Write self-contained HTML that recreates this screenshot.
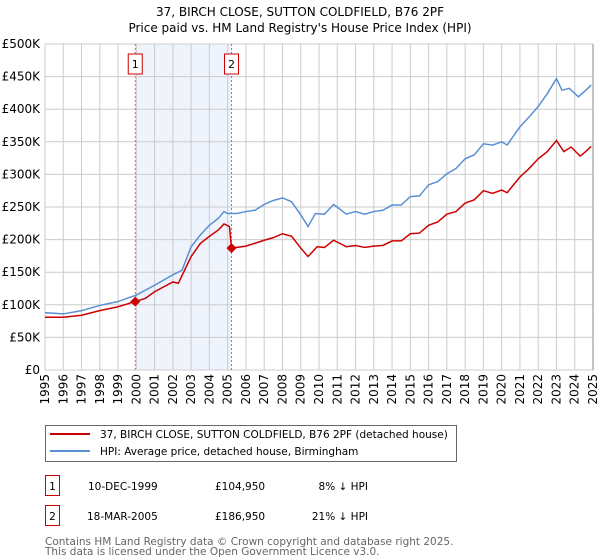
<!DOCTYPE html>
<html><head><meta charset="utf-8"><style>
body{margin:0;background:#fff;}
svg{display:block;font-family:"DejaVu Sans","Liberation Sans",sans-serif;}
</style></head><body>
<svg id="chart" width="600" height="560" viewBox="0 0 600 560">
<text x="300" y="16" text-anchor="middle" font-size="12" fill="#000">37, BIRCH CLOSE, SUTTON COLDFIELD, B76 2PF</text>
<text x="300" y="32" text-anchor="middle" font-size="12" fill="#000">Price paid vs. HM Land Registry's House Price Index (HPI)</text>
<g id="plot"></g>
<g>
<rect x="45.5" y="425.5" width="411" height="36" fill="#fff" stroke="#666"/>
<line x1="50" y1="434" x2="90" y2="434" stroke="#cc0000" stroke-width="2"/>
<text x="100" y="438" font-size="10.5">37, BIRCH CLOSE, SUTTON COLDFIELD, B76 2PF (detached house)</text>
<line x1="50" y1="451" x2="90" y2="451" stroke="#5b8fd4" stroke-width="2"/>
<text x="100" y="455" font-size="10.5">HPI: Average price, detached house, Birmingham</text>
</g>
<g font-size="10.5">
<rect x="45.5" y="475.5" width="14" height="20" fill="#fff" stroke="#cc0000"/>
<text x="52.5" y="490" text-anchor="middle">1</text>
<text x="88" y="490">10-DEC-1999</text>
<text x="215" y="490">£104,950</text>
<text x="368" y="490" text-anchor="end">8% ↓ HPI</text>
<rect x="45.5" y="505.5" width="14" height="20" fill="#fff" stroke="#cc0000"/>
<text x="52.5" y="520" text-anchor="middle">2</text>
<text x="87" y="520">18-MAR-2005</text>
<text x="215" y="520">£186,950</text>
<text x="368" y="520" text-anchor="end">21% ↓ HPI</text>
</g>
<text x="45" y="545" font-size="10.5" fill="#666">Contains HM Land Registry data © Crown copyright and database right 2025.</text>
<text x="45" y="555" font-size="10.5" fill="#666">This data is licensed under the Open Government Licence v3.0.</text>
</svg>
<script>
const yTicks=[0,50000,100000,150000,200000,250000,300000,350000,400000,450000,500000];
const yTickLabels=["£0","£50K","£100K","£150K","£200K","£250K","£300K","£350K","£400K","£450K","£500K"];
const xYears=[1995,1996,1997,1998,1999,2000,2001,2002,2003,2004,2005,2006,2007,2008,2009,2010,2011,2012,2013,2014,2015,2016,2017,2018,2019,2020,2021,2022,2023,2024,2025];
const hpiDates=[1995,1996,1997,1998,1999,2000,2001,2002,2002.5,2003,2003.5,2004,2004.5,2004.8,2005,2005.5,2006,2006.5,2007,2007.5,2008,2008.5,2009,2009.4,2009.8,2010.3,2010.8,2011.5,2012,2012.5,2013,2013.5,2014,2014.5,2015,2015.5,2016,2016.5,2017,2017.5,2018,2018.5,2019,2019.5,2020,2020.3,2021,2021.5,2022,2022.5,2023,2023.3,2023.7,2024.2,2024.6,2024.9];
const hpiValues=[88,86,91,99,105,115,130,146,153,189,207,222,233,243,240,240,243,245,254,260,264,258,238,220,240,239,254,239,243,239,243,245,253,253,266,267,284,289,301,309,324,330,347,345,350,345,373,388,404,424,447,429,432,419,429,437];
const paidDates=[1995,1996,1997,1998,1999,1999.94,2000.5,2001,2002,2002.3,2003,2003.5,2004,2004.5,2004.8,2005.1,2005.21,2006,2007,2007.5,2008,2008.5,2009,2009.4,2009.9,2010.3,2010.8,2011.5,2012,2012.5,2013,2013.5,2014,2014.5,2015,2015.5,2016,2016.5,2017,2017.5,2018,2018.5,2019,2019.5,2020,2020.3,2021,2021.5,2022,2022.5,2023,2023.4,2023.8,2024.3,2024.6,2024.9];
const paidValues=[81,81,84,91,97,104.95,110,120,135,133,174,194,205,215,224,220,186.95,190,199,203,209,205,187,174,189,188,199,189,191,188,190,191,198,198,209,210,222,227,239,243,256,261,275,271,276,272,296,309,324,335,352,335,342,328,335,343];
const saleDates=[1999.94,2005.21];
const salePrices=[104950,186950];
const saleLabels=["1","2"];

const X0=45,X1=593,Y0=370,Y1=44;
const xs=t=>X0+(t-1995)/30*(X1-X0);
const ys=v=>Y0-v/500000*(Y0-Y1);
const NS="http://www.w3.org/2000/svg";
const plot=document.getElementById('plot');
function mk(tag,attrs,parent){const e=document.createElementNS(NS,tag);for(const k in attrs)e.setAttribute(k,attrs[k]);(parent||plot).appendChild(e);return e;}

let e=mk('rect',{x:xs(saleDates[0]),y:Y1,width:xs(saleDates[1])-xs(saleDates[0]),height:Y0-Y1,fill:'#eef3fc'});


yTicks.forEach((v,i)=>{
  let g=mk('line',{x1:X0,x2:X1,y1:ys(v),y2:ys(v),stroke:'#cccccc','stroke-width':1});
  
  
  let t=mk('text',{x:40,y:ys(v)+4,'text-anchor':'end','font-size':12,fill:'#000'});
  t.textContent=yTickLabels[i];
  
  
});
xYears.forEach(yr=>{
  let g=mk('line',{x1:xs(yr),x2:xs(yr),y1:Y1,y2:Y0,stroke:'#cccccc','stroke-width':1});
  
  
  let t=mk('text',{x:0,y:0,'text-anchor':'end','font-size':12,fill:'#000',transform:`translate(${xs(yr)+4},374) rotate(-90)`});
  t.textContent=yr;
  
  
});
saleDates.forEach((d,i)=>{
  let l=mk('line',{x1:xs(d),x2:xs(d),y1:Y1,y2:Y0,stroke:'#e06666','stroke-width':1,'stroke-dasharray':'2,2'});
  
  
  let r=mk('rect',{x:xs(d)-7,y:54,width:14,height:20,fill:'#fff',stroke:'#cc0000'});
  
  
  let t=mk('text',{x:xs(d),y:68,'text-anchor':'middle','font-size':11});
  t.textContent=saleLabels[i];
  
  
});
const hp=mk('polyline',{points:hpiDates.map((d,i)=>xs(d)+','+ys(hpiValues[i]*1000)).join(' '),fill:'none',stroke:'#5b8fd4','stroke-width':1.5});


const pp=mk('polyline',{points:paidDates.map((d,i)=>xs(d)+','+ys(paidValues[i]*1000)).join(' '),fill:'none',stroke:'#cc0000','stroke-width':1.5});


saleDates.forEach((d,i)=>{
  const cx=xs(d),cy=ys(salePrices[i]);
  let p=mk('polygon',{points:`${cx},${cy-5} ${cx+5},${cy} ${cx},${cy+5} ${cx-5},${cy}`,fill:'#cc0000'});
  
  
});
let ax=mk('line',{x1:X1,x2:X1,y1:Y1,y2:Y0,stroke:'#888','stroke-width':1});


</script>
</body></html>
